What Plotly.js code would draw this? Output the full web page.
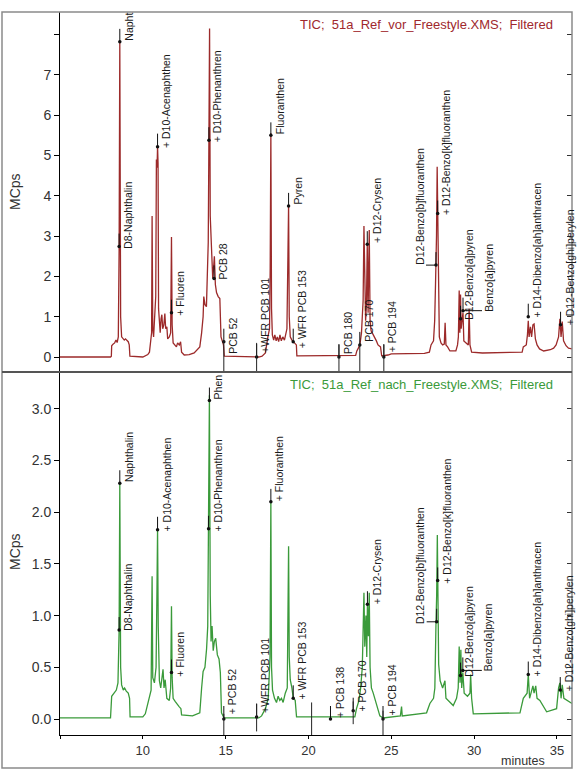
<!DOCTYPE html>
<html><head><meta charset="utf-8">
<script src="https://cdn.plot.ly/plotly-3.0.1.min.js"></script>
<style>html,body{margin:0;padding:0;background:#fff}#chart{width:580px;height:769px}</style>
</head><body><div id="chart"></div>
<script>
// ---------------- DATA ----------------
// Upper chromatogram: TIC 51a_Ref_vor_Freestyle (minutes, MCps)
const timeVor = [5.0,8.05,8.1,8.12,8.2,8.3,8.38,8.45,8.52,8.57,8.61,8.66,8.72,8.8,8.88,8.95,9.05,9.12,9.18,9.22,10.0,10.2,10.3,10.4,10.48,10.53,10.56,10.6,10.65,10.7,10.75,10.78,10.82,10.86,10.89,10.92,10.95,11.0,11.05,11.1,11.15,11.2,11.27,11.33,11.38,11.45,11.5,11.6,11.68,11.73,11.77,11.83,11.93,12.03,12.1,12.2,12.28,12.34,12.5,12.8,13.1,13.3,13.44,13.55,13.64,13.68,13.75,13.84,13.9,13.95,13.99,14.03,14.07,14.12,14.18,14.22,14.27,14.32,14.38,14.45,14.55,14.65,14.72,14.8,14.87,14.92,17.0,17.2,17.4,17.55,17.65,17.69,17.73,17.77,17.82,17.9,17.97,18.05,18.12,18.2,18.28,18.36,18.45,18.55,18.62,18.7,18.76,18.8,18.84,18.9,19.0,19.08,19.18,19.27,19.3,22.85,22.92,23.05,23.12,23.2,23.25,23.3,23.35,23.4,23.45,23.5,23.55,23.6,23.67,23.72,23.78,23.85,24.0,24.1,24.2,24.35,24.42,24.8,25.0,27.0,27.3,27.4,27.55,27.62,27.67,27.7,27.73,27.77,27.8,27.84,27.9,28.0,28.1,28.2,28.25,28.3,28.4,28.54,28.9,29.0,29.05,29.1,29.14,29.18,29.22,29.27,29.33,29.38,29.5,29.65,29.7,29.75,29.85,30.5,32.9,32.97,33.15,33.22,33.27,33.32,33.4,33.47,33.55,33.62,33.7,33.8,33.95,34.2,34.6,34.8,34.95,35.1,35.18,35.25,35.32,35.4,35.55,35.7,35.91];
const mcpsVor = [0.0,0.0,0.02,0.28,0.32,0.35,0.42,0.36,0.5,2.7,7.82,1.0,0.5,0.45,0.42,0.45,0.4,0.38,0.3,0.02,0.0,0.04,0.06,0.12,0.45,0.6,3.5,0.7,0.5,0.9,1.0,1.5,4.9,4.7,5.22,4.8,1.2,0.85,0.6,0.95,1.05,0.7,0.8,1.08,0.7,0.75,0.45,0.5,0.6,2.98,0.8,0.35,0.3,0.25,0.35,0.3,0.38,0.12,0.05,0.06,0.1,0.18,0.25,0.6,1.0,1.5,1.3,1.25,2.2,2.85,5.38,8.15,3.5,2.8,2.4,1.95,2.2,2.5,1.8,1.6,1.5,1.45,0.5,0.35,0.3,0.02,0.0,0.02,0.1,0.5,0.7,2.2,5.55,1.2,0.55,0.42,0.55,0.4,0.5,0.38,0.55,0.4,0.5,0.42,0.6,0.7,2.5,3.78,1.0,0.5,0.42,0.38,0.35,0.3,0.03,0.04,0.15,0.25,0.35,0.6,1.0,1.4,3.25,1.2,0.9,1.3,2.8,1.1,3.15,0.9,0.65,0.6,0.5,0.4,0.3,0.25,0.03,0.05,0.08,0.09,0.12,0.3,0.4,0.9,1.8,2.28,3.0,4.72,3.56,1.5,0.5,0.35,0.3,0.32,0.85,0.3,0.25,0.15,0.15,0.3,0.5,1.65,0.6,1.55,0.7,0.9,1.1,0.4,0.35,0.3,1.2,0.3,0.12,0.1,0.12,0.25,0.3,0.55,0.9,0.5,0.75,0.5,0.8,0.82,0.45,0.3,0.2,0.15,0.18,0.22,0.3,0.5,0.95,0.5,0.88,0.4,0.28,0.22,0.2];

// Lower chromatogram: TIC 51a_Ref_nach_Freestyle (minutes, MCps)
const timeNach = [5.0,8.05,8.12,8.25,8.4,8.5,8.57,8.61,8.66,8.72,8.82,8.9,9.0,9.12,9.2,9.23,10.0,10.15,10.26,10.42,10.5,10.56,10.6,10.7,10.8,10.85,10.89,10.93,11.0,11.08,11.15,11.22,11.28,11.35,11.45,11.6,11.68,11.73,11.77,11.83,11.95,12.03,12.19,12.3,12.34,13.0,13.44,13.55,13.64,13.75,13.85,13.92,13.97,14.02,14.07,14.12,14.18,14.25,14.32,14.4,14.5,14.6,14.68,14.75,14.9,17.0,17.17,17.4,17.57,17.68,17.73,17.77,17.83,17.95,18.07,18.17,18.27,18.37,18.47,18.6,18.72,18.8,18.84,18.9,19.0,19.08,19.2,19.28,22.8,22.9,23.05,23.15,23.25,23.3,23.35,23.4,23.47,23.52,23.56,23.62,23.67,23.72,23.8,23.91,24.11,24.31,24.5,25.55,25.62,25.66,27.13,27.33,27.55,27.63,27.7,27.74,27.78,27.82,27.86,27.95,28.1,28.24,28.3,28.74,28.94,29.04,29.1,29.15,29.2,29.25,29.32,29.4,29.6,29.75,29.79,29.85,29.95,32.77,32.97,33.2,33.27,33.35,33.45,33.55,33.62,33.72,33.8,33.97,34.38,34.98,35.1,35.18,35.25,35.32,35.42,35.61,35.91];
const mcpsNach = [0.01,0.01,0.22,0.25,0.28,0.35,0.86,2.28,0.5,0.33,0.28,0.3,0.27,0.25,0.2,0.02,0.02,0.05,0.12,0.2,0.28,1.38,0.4,0.35,0.5,1.2,1.83,0.9,0.37,0.3,0.4,0.48,0.3,0.38,0.2,0.18,0.3,1.09,0.4,0.2,0.17,0.15,0.12,0.1,0.04,0.03,0.06,0.3,0.46,0.5,0.68,0.9,1.84,3.13,1.2,0.75,0.9,0.66,0.75,0.78,0.62,0.58,0.45,0.06,0.01,0.01,0.03,0.1,0.2,0.6,2.1,0.5,0.28,0.2,0.16,0.22,0.18,0.2,0.16,0.25,0.3,1.67,0.6,0.38,0.3,0.2,0.18,0.02,0.02,0.1,0.18,0.3,0.5,0.8,1.22,0.7,1.0,0.6,1.11,0.8,1.22,0.5,0.3,0.25,0.13,0.03,0.01,0.03,0.12,0.03,0.06,0.15,0.2,0.3,0.94,1.2,1.78,1.34,0.53,0.37,0.3,0.37,0.2,0.13,0.2,0.3,0.7,0.35,0.67,0.3,0.45,0.25,0.22,0.25,0.43,0.2,0.05,0.06,0.2,0.25,0.43,0.2,0.25,0.32,0.25,0.32,0.2,0.18,0.07,0.1,0.3,0.35,0.2,0.33,0.2,0.18,0.15];

// Axis ticks
const xTickVals = [5,10,15,20,25,30,35];
const xTickText = ['','10','15','20','25','30','35'];
const yTickValsVor = [0,1,2,3,4,5,6,7,8];
const yTickTextVor = ['0','1','2','3','4','5','6','7',''];
const yTickValsNach = [0,0.5,1,1.5,2,2.5,3];
const yTickTextNach = ['0.0','0.5','1.0','1.5','2.0','2.5','3.0'];

// Peak labels (retention time, marker height, text)
const labVorTime = [8.61,8.57,10.89,11.73,13.99,14.3,14.89,16.87,17.73,18.8,19.08,21.84,23.1,23.55,24.55,27.7,27.8,29.18,29.33,33.27,35.22];
const labVorMark = [7.82,2.74,5.22,1.1,5.38,1.95,0.38,0.0,5.5,3.75,0.38,0.0,0.3,2.8,0.0,2.28,3.56,0.95,1.15,1.0,0.8];
const labVorText = ['Napht','D8-Naphthalin','+ D10-Acenaphthen','+ Fluoren','+ D10-Phenanthren','PCB 28','PCB 52','+WFR PCB 101','Fluoranthen','Pyren','+ WFR PCB 153','PCB 180','PCB 170','+ D12-Crysen','+ PCB 194','D12-Benzo[b]fluoranthen','+ D12-Benzo[k]fluoranthen','D12-Benzo[a]pyren','Benzo[a]pyren','+ D14-Dibenzo[ah]anthracen','+ D12-Benzo[ghi]perylen'];

const labNachTime = [8.61,8.57,10.89,11.73,14.02,13.97,14.89,16.87,17.73,19.08,21.33,22.7,23.56,24.5,27.74,27.8,29.18,29.32,33.27,35.2];
const labNachMark = [2.28,0.86,1.83,0.45,3.08,1.84,0.0,0.02,2.1,0.2,0.0,0.08,1.11,0.0,0.94,1.34,0.42,0.47,0.43,0.28];
const labNachText = ['Naphthalin','D8-Naphthalin','+ D10-Acenaphthen','+ Fluoren','Phen','+ D10-Phenanthren','+ PCB 52','+WFR PCB 101','+ Fluoranthen','+ WFR PCB 153','+ PCB 138','+ PCB 170','+ D12-Crysen','+ PCB 194','D12-Benzo[b]fluoranthen','+ D12-Benzo[k]fluoranthen','D12-Benzo[a]pyren','Benzo[a]pyren','+ D14-Dibenzo[ah]anthracen','+ D12-Benzo[ghi]perylen'];

// Integration / event marks (time, lower, upper)
const evVorTime = [14.89,16.87,21.84,23.1,24.55];
const evVorLow = [-0.4,-0.4,-0.4,-0.4,-0.4];
const evVorHigh = [0.4,0.35,0.3,0.35,0.3];
const evNachTime = [14.89,16.87,20.19,22.7,24.5];
const evNachLow = [-0.16,-0.12,-0.16,-0.05,-0.16];
const evNachHigh = [0.05,0.15,0.16,0.17,0.08];

// ---------------- PLACEMENT / STYLE ----------------
const placeVor = {
  textY: [7.82,2.65,5.15,1.0,5.3,1.9,0.05,0.08,5.5,3.75,0.2,0.05,0.35,2.8,0.1,2.25,3.5,0.9,1.1,0.95,0.75],
  side:  ['r','r','r','r','r','r','r','r','r','r','r','r','r','r','r','l','r','r','f','r','r']
};
const placeNach = {
  textY: [2.28,0.84,1.8,0.4,3.08,1.8,0.04,0.05,2.1,0.18,0.0,0.06,1.1,0.02,0.91,1.3,0.4,0.45,0.4,0.26],
  side:  ['r','r','r','r','r','r','r','r','r','r','r','r','r','r','l','r','r','f','r','r']
};

const W = 580, H = 769;
const mL = 60, mR = 8, mT = 12, mB = 34;
const plotW = W - mL - mR, plotH = H - mT - mB;
const pxX = px => (px - mL) / plotW;
const pxY = py => (H - mB - py) / plotH;
const split = pxY(372);
const FONT = 'Liberation Sans, Arial, sans-serif';
const colVor = '#9c2a2a', colNach = '#3a9a3a';

const traces = [
  {x: timeVor, y: mcpsVor, xaxis:'x', yaxis:'y2', mode:'lines', line:{color:colVor, width:1.3}, hoverinfo:'skip', showlegend:false},
  {x: timeNach, y: mcpsNach, xaxis:'x', yaxis:'y', mode:'lines', line:{color:colNach, width:1.3}, hoverinfo:'skip', showlegend:false},
  {x: labVorTime, y: labVorMark, xaxis:'x', yaxis:'y2', mode:'markers', marker:{size:3.5, color:'#111'}, cliponaxis:false, hoverinfo:'skip', showlegend:false},
  {x: labNachTime, y: labNachMark, xaxis:'x', yaxis:'y', mode:'markers', marker:{size:3.5, color:'#111'}, cliponaxis:false, hoverinfo:'skip', showlegend:false},
  {x: [null], y: [null], xaxis:'x', yaxis:'y3', showlegend:false, hoverinfo:'skip'},
  {x: [null], y: [null], xaxis:'x', yaxis:'y4', showlegend:false, hoverinfo:'skip'}
];

const annotations = [];
const shapes = [];
function addLabels(times, marks, texts, place, yref) {
  for (let i = 0; i < times.length; i++) {
    const side = place.side[i];
    const a = {x: times[i], y: place.textY[i], xref:'x', yref: yref, text: texts[i], textangle: -90,
      yanchor:'bottom', showarrow:false, borderpad:0, font:{family:FONT, size:10.5, color:'#1a1a1a'}};
    if (side === 'l') { a.xanchor = 'right'; a.xshift = -9; }
    else if (side === 'f') { a.xanchor = 'left'; a.xshift = 19; }
    else { a.xanchor = 'left'; a.xshift = 2; }
    annotations.push(a);
    shapes.push({type:'line', xref:'x', yref:yref, x0:times[i], x1:times[i], ysizemode:'pixel', yanchor:marks[i], y0:0, y1:13, line:{color:'#111', width:1}});
    if (side === 'l' || side === 'f') {
      shapes.push({type:'line', xref:'x', yref:yref, xsizemode:'pixel', xanchor:times[i], x0:0, x1:(side==='l'?-10:19), y0:marks[i], y1:marks[i], line:{color:'#111', width:1}});
    }
  }
}
addLabels(labVorTime, labVorMark, labVorText, placeVor, 'y2');
addLabels(labNachTime, labNachMark, labNachText, placeNach, 'y');

function addEvents(times, lo, hi, yref) {
  for (let i = 0; i < times.length; i++) {
    shapes.push({type:'line', xref:'x', yref:yref, x0:times[i], x1:times[i], y0:lo[i], y1:hi[i], line:{color:'#222', width:1}});
  }
}
addEvents(evVorTime, evVorLow, evVorHigh, 'y2');
addEvents(evNachTime, evNachLow, evNachHigh, 'y');

shapes.push({type:'rect', xref:'paper', yref:'paper', x0:pxX(2), x1:pxX(572), y0:pxY(768), y1:pxY(12), line:{color:'#8a8a8a', width:1.5}, layer:'above'});
shapes.push({type:'line', xref:'paper', yref:'paper', x0:pxX(2), x1:pxX(572), y0:split, y1:split, line:{color:'#555', width:2}, layer:'above'});

annotations.push({xref:'paper', yref:'paper', x:pxX(555), y:pxY(24), xanchor:'right', yanchor:'middle', showarrow:false,
  text:'TIC;  51a_Ref_vor_Freestyle.XMS;  Filtered', font:{family:FONT, size:13, color:'#a0282d'}});
annotations.push({xref:'paper', yref:'paper', x:pxX(555), y:pxY(385), xanchor:'right', yanchor:'middle', showarrow:false,
  text:'TIC;  51a_Ref_nach_Freestyle.XMS;  Filtered', font:{family:FONT, size:13, color:'#3a9a3a'}});
annotations.push({xref:'paper', yref:'paper', x:pxX(15), y:pxY(192), xanchor:'center', yanchor:'middle', showarrow:false, textangle:-90,
  text:'MCps', font:{family:FONT, size:14, color:'#333'}});
annotations.push({xref:'paper', yref:'paper', x:pxX(15), y:pxY(552), xanchor:'center', yanchor:'middle', showarrow:false, textangle:-90,
  text:'MCps', font:{family:FONT, size:14, color:'#333'}});
annotations.push({xref:'paper', yref:'paper', x:pxX(546), y:pxY(761), xanchor:'right', yanchor:'middle', showarrow:false,
  borderpad:0, text:'minutes', font:{family:FONT, size:12.5, color:'#333'}});

const yCommon = {showline:true, linecolor:'#000', linewidth:1, ticks:'outside', ticklen:5, tickcolor:'#000',
  showgrid:false, zeroline:false, tickfont:{family:FONT, size:14, color:'#333'}, fixedrange:true};
const rangeVor = [-0.372, 8.561];
const rangeNach = [-0.1547, 3.356];

const layout = {
  width: W, height: H,
  margin: {l:mL, r:mR, t:mT, b:mB, pad:0},
  paper_bgcolor:'#fff', plot_bgcolor:'#fff',
  showlegend:false,
  xaxis: {domain:[0,1], range:[5, 35.91], anchor:'y', showline:true, linecolor:'#000', linewidth:1,
    ticks:'outside', ticklen:3, tickcolor:'#000', tickvals:xTickVals, ticktext:xTickText,
    tickfont:{family:FONT, size:13, color:'#333'}, showgrid:false, zeroline:false, fixedrange:true},
  yaxis: Object.assign({}, yCommon, {domain:[0, split], range:rangeNach, anchor:'x', tickvals:yTickValsNach, ticktext:yTickTextNach}),
  yaxis2: Object.assign({}, yCommon, {domain:[split, 1], range:rangeVor, anchor:'x', tickvals:yTickValsVor, ticktext:yTickTextVor}),
  yaxis3: {overlaying:'y2', side:'right', anchor:'x', range:rangeVor, tickvals:yTickValsVor, ticks:'inside', ticklen:5, tickcolor:'#333',
    showticklabels:false, showline:false, showgrid:false, zeroline:false, fixedrange:true},
  yaxis4: {overlaying:'y', side:'right', anchor:'x', range:rangeNach, tickvals:yTickValsNach, ticks:'inside', ticklen:5, tickcolor:'#333',
    showticklabels:false, showline:false, showgrid:false, zeroline:false, fixedrange:true},
  annotations: annotations,
  shapes: shapes
};

Plotly.newPlot('chart', traces, layout, {displayModeBar:false, staticPlot:true});
</script>
</body></html>
